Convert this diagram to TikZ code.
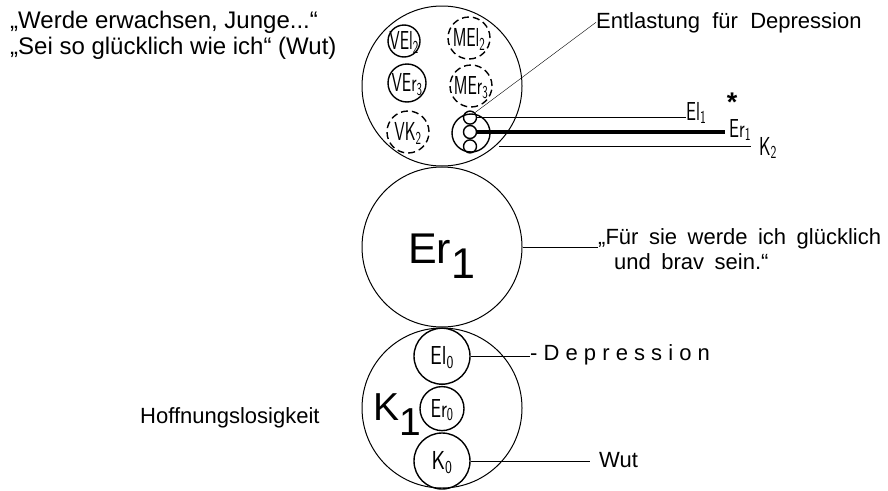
\documentclass[tikz,border=0pt]{standalone}
\usepackage{fontspec}
\setmainfont{Liberation Sans}
\usepackage{graphicx}
\usetikzlibrary{positioning}

\newcommand{\hw}[2][.64]{\makebox[0pt]{\raisebox{-.33em}[0pt][0pt]{\scalebox{#1}[1]{#2}}}}

\begin{document}
\begin{tikzpicture}[x=1pt,y=-1pt,
    ring/.style={circle,draw,inner sep=0pt},
    big/.style={ring,line width=1pt,minimum size=160pt},
    sm/.style={ring,line width=1.4pt,minimum size=#1,font=\fontsize{26}{26}\sffamily},
    ds/.style={sm=#1,dash pattern=on 7pt off 4pt},
    hand/.style={inner sep=0pt,font=\fontsize{26}{26}\sffamily},
    txt/.style={inner sep=0pt,font=\fontsize{22}{25}\selectfont}]
    \useasboundingbox (0,0) rectangle (888,490);

    % die drei grossen Kreise
    \node[big] (top) at (442,86) {};
    \node[big,below=0pt of top] (er) {};
    \node[big,below=0pt of er] (k) {};

    % oberer Kreis
    \node[sm=32pt] (vel) at (404,41) {\hw{VEl\textsubscript{2}}};
    \node[ds=42pt] (mel) at (469,38) {\hw{MEl\textsubscript{2}}};
    \node[sm=38pt] (ver) at (407,83) {\hw{VEr\textsubscript{3}}};
    \node[ds=42pt] (mer) at (471,86) {\hw{MEr\textsubscript{3}}};
    \node[ds=42pt] (vk) at (408,132) {\hw{VK\textsubscript{2}}};
    \node[sm=38pt] (cl) at (471,133) {};
    \node[sm=13pt] (c2) at (470,132) {};
    \node[sm=13pt,above=0pt of c2] (c1) {};
    \node[sm=13pt,below=0pt of c2] (c3) {};

    \node[hand,anchor=base west] (el1) at (686,120) {\scalebox{.68}[1]{El\textsubscript{1}}};
    \node[hand,anchor=west] (er1) at (729,130) {\scalebox{.68}[1]{Er\textsubscript{1}}};
    \node[hand,anchor=west] (k2) at (759,148) {\scalebox{.68}[1]{K\textsubscript{2}}};
    \node[inner sep=0pt,font=\fontsize{27}{27}\bfseries,anchor=base] (ast) at (732,111) {*};
    \node[txt,anchor=base west] (ent) at (596,28) {Entlastung\ \ für\ \ Depression};

    \draw (c1.north east) -- (ent.west);
    \draw (c1.east) -- (c1.east -| el1.south west);
    \draw[line width=3.2pt] (c2.east) -- ([xshift=-4pt]c2.east -| er1.west);
    \draw[line width=1.8pt] ([xshift=22pt]c3.east) -- ([xshift=-8pt]c3.east -| k2.west);

    % Er1
    \node[font=\fontsize{43}{43}\selectfont,anchor=base west,inner sep=0pt] (erl) at (408,263) {Er\raisebox{-15pt}{1}};
    \node[txt,anchor=base west] (fs1) at (598,244) {\spaceskip=10.5pt,,Für sie werde ich glücklich};
    \node[txt,anchor=base west] (fs2) at (614,269) {\spaceskip=10.5pt und brav sein.“};
    \draw (er.east) -- (er.east -| fs1.west);

    % K1
    \node[sm=56pt,below=0pt of k.north] (el0) {\hw[.8]{El\textsubscript{0}}};
    \node[sm=44pt,below=1pt of el0] (er0) {\hw[.72]{Er\textsubscript{0}}};
    \node[sm=56pt,below=1pt of er0] (k0) {\hw[.8]{K\textsubscript{0}}};
    \node[font=\fontsize{39}{39}\selectfont,anchor=base west,inner sep=0pt] (kl) at (373,420) {K\raisebox{-15pt}{1}};
    \node[txt,anchor=west] (dep) at (530,355) {- D e p r e s s i o n};
    \node[txt,anchor=west] (wut) at (599,460) {Wut};
    \node[txt,anchor=base west] (hof) at (140,423) {Hoffnungslosigkeit};
    \draw (el0.east) -- (el0.east -| dep.west);
    \draw (k0.east) -- ([xshift=-9pt]k0.east -| wut.west);

    % Text oben links
    \node[txt,font=\fontsize{24}{26}\selectfont,anchor=base west] (w1) at (10,28) {,,Werde erwachsen, Junge...“};
    \node[txt,font=\fontsize{24}{26}\selectfont,anchor=base west] (w2) at (10,54) {,,Sei so glücklich wie ich“ (Wut)};
\end{tikzpicture}
\end{document}
